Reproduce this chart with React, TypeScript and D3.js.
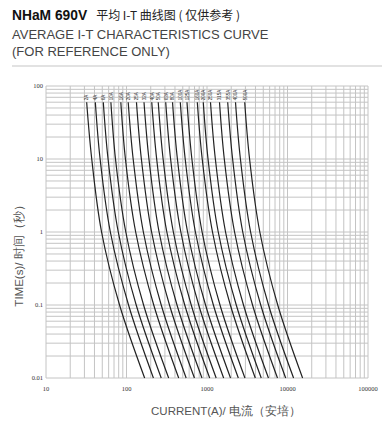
import React from "react";
import * as d3 from "d3";

const ratings = ["2A","4A","6A","10A","16A","20A","25A","32A","40A","50A","63A","80A","100A","125A","160A","200A","250A","315A","355A","400A","500A"];
const times = [60, 10, 1, 0.1, 0.01];
const c1 = [32, 37, 49, 82, 168];
const c2 = [41, 47, 63, 106, 216];
const c3 = [51.5, 59, 79, 132, 270];
const c4 = [64, 73, 98, 163, 334];
const c5 = [85, 97, 130, 218, 445];
const c6 = [105, 121, 162, 270, 551];
const c7 = [133, 153, 205, 342, 698];
const c8 = [165, 190, 254, 424, 866];
const c9 = [206, 237, 317, 529, 1080];
const c10 = [248, 285, 382, 637, 1300];
const c11 = [307, 353, 473, 789, 1610];
const c12 = [373, 429, 574, 959, 1960];
const c13 = [466, 536, 718, 1200, 2450];
const c14 = [564, 649, 869, 1450, 2960];
const c15 = [758, 872, 1170, 1950, 3980];
const c16 = [899, 1030, 1380, 2310, 4720];
const c17 = [1105, 1270, 1700, 2840, 5800];
const c18 = [1430, 1640, 2200, 3680, 7510];
const c19 = [1808, 2080, 2780, 4650, 9490];
const c20 = [2260, 2600, 3480, 5810, 11900];
const c21 = [2940, 3380, 4530, 7560, 15400];
const curves = [c1,c2,c3,c4,c5,c6,c7,c8,c9,c10,c11,c12,c13,c14,c15,c16,c17,c18,c19,c20,c21];
const xTickLabels = ["10", "100", "1000", "10000", "100000"];
const yTickLabels = ["100", "10", "1", "0.1", "0.01"];

export default function App() {
  const W = 382, H = 428;
  const left = 46, right = 368, top = 86, bottom = 378;
  const x = d3.scaleLog().domain([10, 100000]).range([left, right]);
  const y = d3.scaleLog().domain([0.01, 100]).range([bottom, top]);

  const xGrid: number[] = [];
  for (let d = 10; d < 100000; d *= 10) for (let k = 1; k <= 9; k++) xGrid.push(d * k);
  xGrid.push(100000);
  const yGrid: number[] = [];
  for (let d = 0.01; d < 99; d *= 10) for (let k = 1; k <= 9; k++) yGrid.push(d * k);
  yGrid.push(100);

  const line = d3.line<[number, number]>()
    .x(p => x(p[0]))
    .y(p => y(p[1]))
    .curve(d3.curveCatmullRom.alpha(0.5));

  const gridColor = "#c4c4c4";
  const sans = "'Liberation Sans', Arial, sans-serif";
  const serif = "'Liberation Serif', 'Times New Roman', serif";

  return (
    <svg width={W} height={H} style={{ position: "absolute", left: 0, top: 0, background: "#fff" }}>
      <text x={12} y={20} fontFamily={sans} fontSize={13.8} fontWeight="bold" fill="#111">
        NHaM 690V
        <tspan dx={9} fontWeight="normal" fontSize={12} fontFamily="'Noto Sans CJK SC', sans-serif" fill="#222">平均 I-T 曲线图 ( 仅供参考 )</tspan>
      </text>
      <text x={12} y={39} fontFamily={sans} fontSize={13} fill="#444">AVERAGE I-T CHARACTERISTICS CURVE</text>
      <text x={12} y={56} fontFamily={sans} fontSize={13} fill="#444">(FOR REFERENCE ONLY)</text>
      <line x1={12} x2={382} y1={66} y2={66} stroke="#e2e2e2" strokeWidth={2} />

      {xGrid.map((v, i) => (
        <line key={"xg" + i} x1={x(v)} x2={x(v)} y1={top} y2={bottom} stroke={gridColor} strokeWidth={1} />
      ))}
      {yGrid.map((v, i) => (
        <line key={"yg" + i} x1={left} x2={right} y1={y(v)} y2={y(v)} stroke={gridColor} strokeWidth={1} />
      ))}

      {curves.map((c, i) => (
        <path key={"c" + i} d={line(c.map((I, j) => [I, times[j]] as [number, number])) || ""}
          fill="none" stroke="#222" strokeWidth={1.2} />
      ))}
      {curves.map((c, i) => (
        <text key={"l" + i} transform={`translate(${x(c[0]) + 1.8},${y(times[0]) - 2}) rotate(-90)`}
          fontFamily={sans} fontSize={4.5} fill="#333">{ratings[i]}</text>
      ))}

      {xTickLabels.map((t, i) => (
        <text key={"xt" + i} x={x(+t)} y={391} textAnchor="middle" fontFamily={serif} fontSize={6.5} fill="#333">{t}</text>
      ))}
      {yTickLabels.map((t, i) => (
        <text key={"yt" + i} x={43} y={y(+t) + 2} textAnchor="end" fontFamily={serif} fontSize={6.5} fill="#333">{t}</text>
      ))}

      <text transform={`translate(23,253) rotate(-90)`} textAnchor="middle" fontFamily={sans} fontSize={11.5} fill="#555">
        TIME(s)/ 时间（秒）
      </text>
      <text x={226} y={415} textAnchor="middle" fontFamily={sans} fontSize={11.5} fill="#555">
        CURRENT(A)/ 电流（安培）
      </text>
    </svg>
  );
}
